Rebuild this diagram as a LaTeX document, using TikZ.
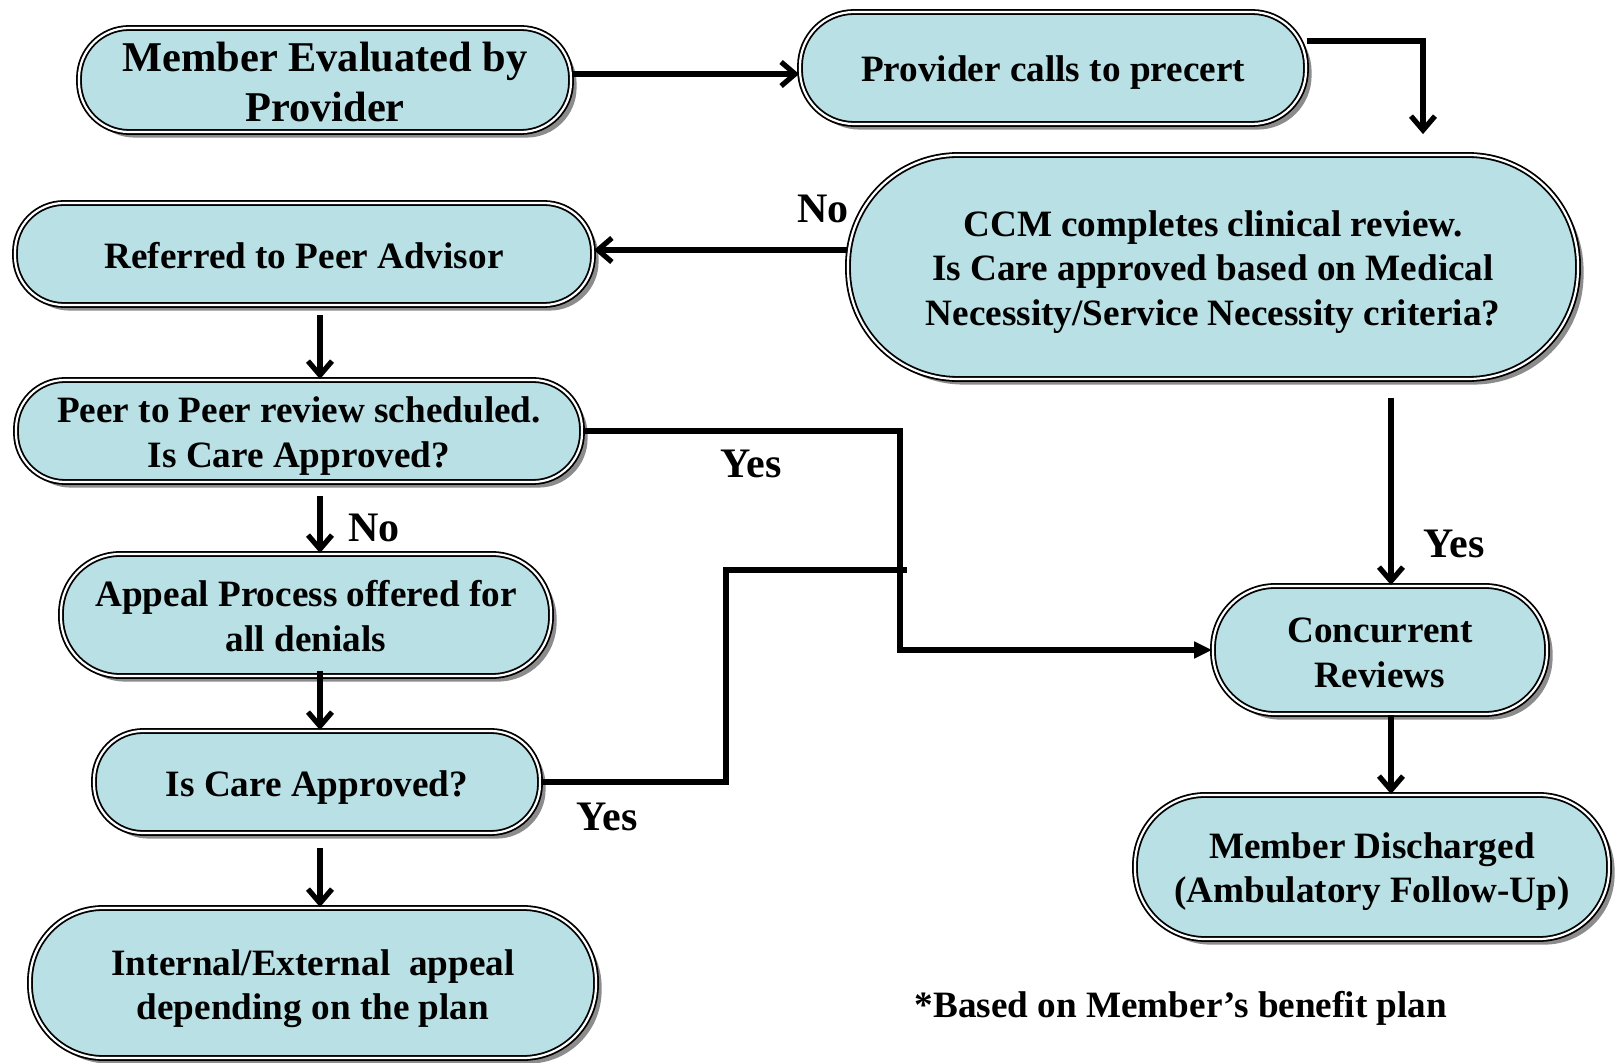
\documentclass[tikz,border=0pt]{standalone}
\usepackage{fontspec}
\setmainfont{Liberation Serif}
\usepackage{tikz}
\usetikzlibrary{arrows.meta,calc,shadows}
\definecolor{boxfill}{RGB}{185,224,228}
\definecolor{shade}{RGB}{140,140,140}
\newcommand{\lift}[1]{\rule{0pt}{#1}}
\tikzset{
  term/.style={draw, line width=0.9pt, double=white, double distance=1.1pt, fill=boxfill,
    align=center, inner sep=2pt, font=\bfseries\fontsize{18.6}{22.2}\selectfont,
    drop shadow={shadow xshift=2.8pt, shadow yshift=-2.8pt, fill=shade, opacity=1}},
  fl/.style={line width=2.6pt, -{Straight Barb[length=7pt,width=12pt]}},
  flt/.style={line width=2.6pt, -{Triangle[length=9pt,width=8pt]}},
  ln/.style={line width=2.6pt},
  lbl/.style={font=\bfseries\fontsize{21}{24}\selectfont, inner sep=0pt},
}
\begin{document}
\begin{tikzpicture}[x=0.5pt,y=-0.5pt]
\useasboundingbox (0,0) rectangle (1619,1063);
\coordinate (colL) at (320,0);
\coordinate (colR) at (1391,0);
\coordinate (colA) at (1423,0);
\coordinate (join) at (900,650);
\coordinate (stepup) at (726,570);
\coordinate (merge) at (907,570);
% boxes
\node[term, minimum width=246pt, minimum height=52pt, rounded corners=25pt,
  font=\bfseries\fontsize{21.2}{24.8}\selectfont] (mem) at (325,80) {\lift{16.5pt}Member Evaluated by\\Provider};
\node[term, minimum width=253pt, minimum height=56pt, rounded corners=27pt] (pre) at (1053,68) {\lift{17.8pt}Provider calls to precert};
\node[term, minimum width=365pt, minimum height=112pt, rounded corners=55pt] (ccm) at (1213,267)
  {\lift{17.8pt}CCM completes clinical review.\\Is Care approved based on Medical\\Necessity/Service Necessity criteria?};
\node[term, minimum width=289pt, minimum height=51pt, rounded corners=24.5pt] (ref) at (304,254) {\lift{14.8pt}Referred to Peer Advisor};
\node[term, minimum width=283pt, minimum height=51pt, rounded corners=24.5pt] (p2p) at (299,431) {\lift{17.8pt}Peer to Peer review scheduled.\\Is Care Approved?};
\node[term, minimum width=245pt, minimum height=61pt, rounded corners=29.5pt] (app) at (306,615) {\lift{14.3pt}Appeal Process offered for\\all denials};
\node[term, minimum width=223pt, minimum height=51pt, rounded corners=24.5pt] (ica) at (317,782) {\lift{18.8pt}Is Care Approved?};
\node[term, minimum width=283pt, minimum height=75pt, rounded corners=36.5pt] (iea) at (313,983) {\lift{18.6pt}Internal/External~ appeal\\depending on the plan};
\node[term, minimum width=167pt, minimum height=64pt, rounded corners=31pt] (cr) at (1380,650) {\lift{15.2pt}Concurrent\\Reviews};
\node[term, minimum width=237pt, minimum height=72pt, rounded corners=35pt] (dis) at (1372,867) {\lift{17.8pt}Member Discharged\\(Ambulatory Follow-Up)};
% main flow
\draw[fl] ([yshift=3pt]mem.east) -- ([yshift=3pt]mem.east -| pre.west);
\draw[fl, shorten >=10pt] ([yshift=13.5pt]pre.east) -| (ccm.north -| colA);
\draw[fl] ([yshift=8.5pt]ccm.west) -- ([yshift=8.5pt]ccm.west -| ref.east);
% left column
\draw[fl, shorten <=4.5pt] (ref.south -| colL) -- (p2p.north -| colL);
\draw[fl, shorten <=6.5pt] (p2p.south -| colL) -- (app.north -| colL);
\draw[fl, shorten <=-3pt] (app.south -| colL) -- (ica.north -| colL);
\draw[fl, shorten <=7pt] (ica.south -| colL) -- (iea.north -| colL);
% right column
\draw[fl, shorten <=9pt] (ccm.south -| colR) -- (cr.north -| colR);
\draw[fl] (cr.south -| colR) -- (dis.north -| colR);
% yes branches
\draw[flt] (p2p.east) -| (join) -- (cr.west);
\draw[ln] (ica.east) -| (stepup) -- (merge);
% labels
\node[lbl] (no1) at (823,209) {No};
\node[lbl] (no2) at (374,528) {No};
\node[lbl] (yes1) at (751,464) {Yes};
\node[lbl] (yes2) at (607,817) {Yes};
\node[lbl] (yes3) at (1454,544) {Yes};
\node[anchor=base, inner sep=0pt, font=\bfseries\fontsize{18.6}{22.2}\selectfont] (note) at (1181,1018) {*Based on Member’s benefit plan};
\end{tikzpicture}
\end{document}
